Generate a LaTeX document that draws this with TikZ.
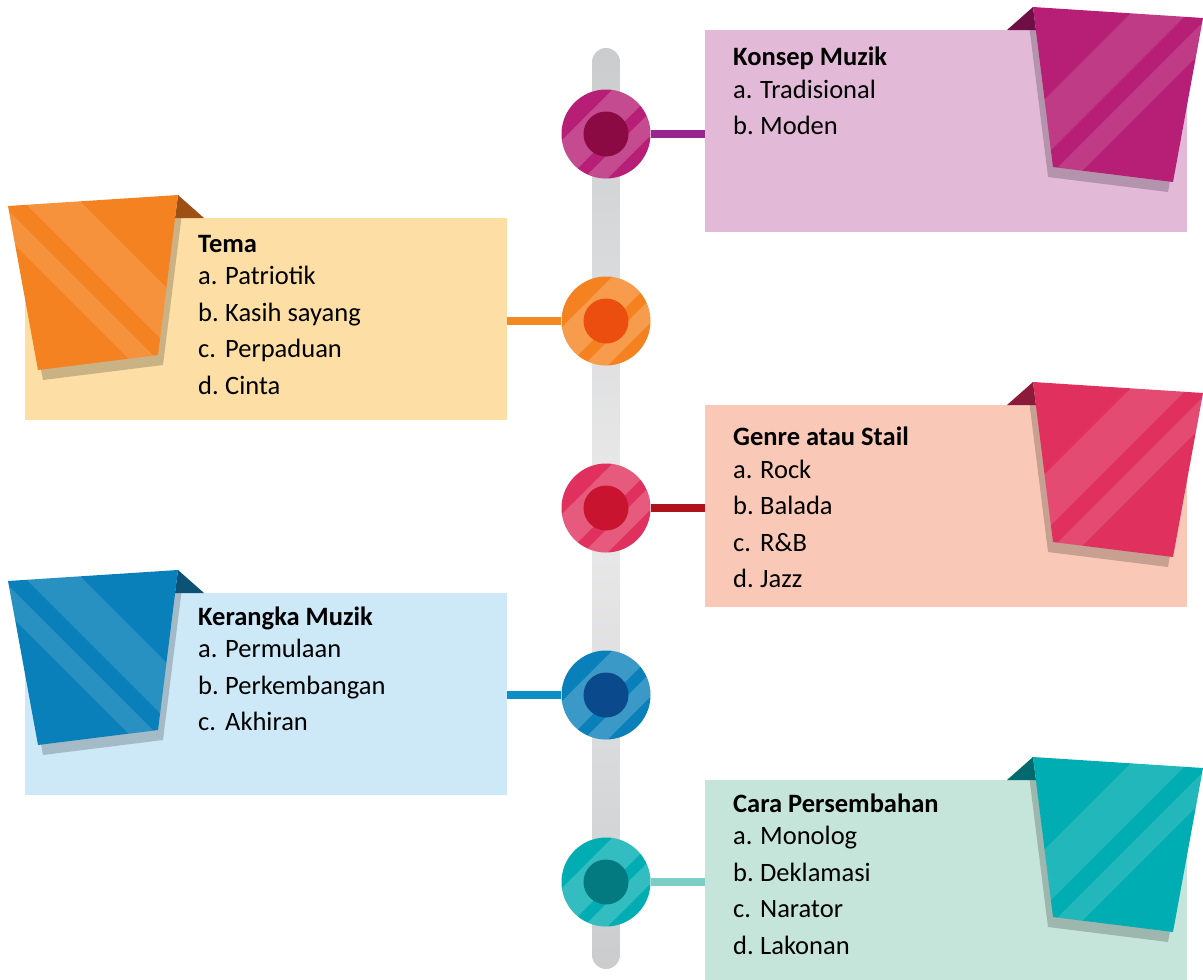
\documentclass[tikz,border=0pt]{standalone}
\usepackage{fontspec}
\setmainfont{Carlito}

% colours
\definecolor{barend}{HTML}{CBCCCE}
\definecolor{barmid}{HTML}{EAEAEB}

\definecolor{konsepbg}{HTML}{E2BAD8}
\definecolor{konseptag}{HTML}{B71E75}
\definecolor{konsepfold}{HTML}{6E1045}
\definecolor{konsepline}{HTML}{96278F}
\definecolor{konsepdot}{HTML}{8B0A43}

\definecolor{temabg}{HTML}{FDDFA5}
\definecolor{tematag}{HTML}{F58220}
\definecolor{temafold}{HTML}{9E4F15}
\definecolor{temaline}{HTML}{F18A22}
\definecolor{temadot}{HTML}{EB4E0E}

\definecolor{genrebg}{HTML}{F9C8B6}
\definecolor{genretag}{HTML}{E0315E}
\definecolor{genrefold}{HTML}{8C1B3B}
\definecolor{genreline}{HTML}{B0121C}
\definecolor{genredot}{HTML}{C8142E}

\definecolor{kerangkabg}{HTML}{CDE9F8}
\definecolor{kerangkatag}{HTML}{0A80BA}
\definecolor{kerangkafold}{HTML}{0B5274}
\definecolor{kerangkaline}{HTML}{0B8FC6}
\definecolor{kerangkadot}{HTML}{0A4A8C}

\definecolor{carabg}{HTML}{C5E5DA}
\definecolor{caratag}{HTML}{00ADB2}
\definecolor{carafold}{HTML}{026A6E}
\definecolor{caraline}{HTML}{7CCDC5}
\definecolor{caradot}{HTML}{037A80}

\newcommand{\lbl}[1]{\makebox[27pt][l]{#1}}

% folded tag: corner, side, colour, fold colour, box
\newcommand{\flag}[5]{%
  \begin{scope}[shift={#1}, xscale=#2]
    \begin{scope}
      \clip (#5.south west) rectangle (#5.north east);
      \fill[black, opacity=.2] (-5,10) -- (165,21) -- (135,185) -- (15,170) -- cycle;
    \end{scope}
    \fill[#4] (-26,23) -- (0,0) -- (3,23) -- cycle;
    \fill[#3] (0,0) -- (170,11) -- (140,175) -- (20,160) -- cycle;
    \clip (0,0) -- (170,11) -- (140,175) -- (20,160) -- cycle;
    \fill[white, opacity=.13] (154,-50) -- (211,-50) -- (-89,250) -- (-146,250) -- cycle;
    \fill[white, opacity=.13] (235,-50) -- (263,-50) -- (-37,250) -- (-65,250) -- cycle;
  \end{scope}}

\begin{document}
\begin{tikzpicture}[x=1pt, y=-1pt,
    box/.style={anchor=north west, minimum width=482pt, minimum height=202pt, inner sep=0pt},
    txt/.style={anchor=north west, inner sep=0pt, align=left, font=\fontsize{26.5}{36.5}\selectfont},
    link/.style={line width=8pt, draw=#1},
    dot/.style 2 args={circle, inner sep=0pt, minimum size=89pt, fill=#1,
      path picture={
        \begin{scope}[shift={(path picture bounding box.center)}]
          \fill[white, opacity=.2] (12,-50) -- (56,-50) -- (-44,50) -- (-88,50) -- cycle;
          \fill[white, opacity=.2] (72,-50) -- (96,-50) -- (-4,50) -- (-28,50) -- cycle;
          \fill[#2] (0,0) circle (22.5);
        \end{scope}}}]

    \useasboundingbox (0,0) rectangle (1203,980);

    % time line
    \shade[top color=barend, bottom color=barend, middle color=barmid, rounded corners=14pt]
      (592,48) rectangle (620,969);

    % boxes
    \node[box, fill=konsepbg] (konsep) at (705,30) {};
    \node[box, fill=temabg] (tema) at (25,218) {};
    \node[box, fill=genrebg] (genre) at (705,405) {};
    \node[box, fill=kerangkabg] (kerangka) at (25,593) {};
    \node[box, fill=carabg, minimum height=200pt] (cara) at (705,780) {};

    % dots
    \node[dot={konseptag}{konsepdot}] (c1) at (606,134) {};
    \node[dot={tematag}{temadot}] (c2) at (606,321) {};
    \node[dot={genretag}{genredot}] (c3) at (606,508) {};
    \node[dot={kerangkatag}{kerangkadot}] (c4) at (606,695) {};
    \node[dot={caratag}{caradot}] (c5) at (606,882) {};

    \draw[link=konsepline] (c1) -- (c1 -| konsep.west);
    \draw[link=temaline] (c2) -- (c2 -| tema.east);
    \draw[link=genreline] (c3) -- (c3 -| genre.west);
    \draw[link=kerangkaline] (c4) -- (c4 -| kerangka.east);
    \draw[link=caraline] (c5) -- (c5 -| cara.west);

    % tags
    \flag{(1033,7)}{1}{konseptag}{konsepfold}{konsep}
    \flag{(178,195)}{-1}{tematag}{temafold}{tema}
    \flag{(1033,382)}{1}{genretag}{genrefold}{genre}
    \flag{(178,570)}{-1}{kerangkatag}{kerangkafold}{kerangka}
    \flag{(1033,757)}{1}{caratag}{carafold}{cara}

    % texts
    \node[txt] (t1) at (733,45.5) {\rule{0pt}{20pt}\textbf{Konsep Muzik}\\[-4pt]
      \lbl{a.}Tradisional\\ \lbl{b.}Moden};
    \node[txt] (t2) at (198,232) {\rule{0pt}{20pt}\textbf{Tema}\\[-4pt]
      \lbl{a.}Patriotik\\ \lbl{b.}Kasih sayang\\ \lbl{c.}Perpaduan\\ \lbl{d.}Cinta};
    \node[txt] (t3) at (733,425.5) {\rule{0pt}{20pt}\textbf{Genre atau Stail}\\[-4pt]
      \lbl{a.}Rock\\ \lbl{b.}Balada\\ \lbl{c.}R\&B\\ \lbl{d.}Jazz};
    \node[txt] (t4) at (198,605) {\rule{0pt}{20pt}\textbf{Kerangka Muzik}\\[-4pt]
      \lbl{a.}Permulaan\\ \lbl{b.}Perkembangan\\ \lbl{c.}Akhiran};
    \node[txt] (t5) at (733,792) {\rule{0pt}{20pt}\textbf{Cara Persembahan}\\[-4pt]
      \lbl{a.}Monolog\\ \lbl{b.}Deklamasi\\ \lbl{c.}Narator\\ \lbl{d.}Lakonan};

\end{tikzpicture}
\end{document}
